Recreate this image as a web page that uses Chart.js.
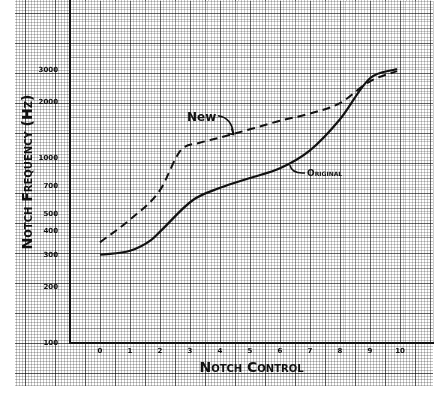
<!DOCTYPE html>
<html>
<head>
<meta charset="utf-8">
<script src="https://cdn.jsdelivr.net/npm/chart.js@4"></script>
<style>
  html, body { margin:0; padding:0; background:#fff; }
  #wrap { position:relative; width:438px; height:394px; }
  #paper {
    position:absolute; left:15px; top:0; width:418px; height:386px;
    background-color:#fff;
    background-image:
      linear-gradient(to right, rgba(0,0,0,.55) 1px, transparent 1px),
      linear-gradient(to bottom, rgba(0,0,0,.55) 1px, transparent 1px),
      linear-gradient(to right, rgba(0,0,0,.22) 1px, transparent 1px),
      linear-gradient(to bottom, rgba(0,0,0,.22) 1px, transparent 1px);
    background-size: 30px 30px, 30px 30px, 3px 3px, 3px 3px;
    background-position: 10px 0, 0 13px, 1px 0, 0 1px;
  }
  #chart { position:absolute; left:0; top:0; }
</style>
</head>
<body>
<div id="wrap">
  <div id="paper"></div>
  <canvas id="chart" width="438" height="394"></canvas>
</div>
<script>
// =======================
// DATA
// =======================
const xTicks = [0, 1, 2, 3, 4, 5, 6, 7, 8, 9, 10];
const yTicks = [100, 200, 300, 400, 500, 700, 1000, 2000, 3000];

const originalX = [0, 1, 1.7, 2, 3.1, 4, 5, 6, 7, 8, 9, 9.9];
const originalY = [300, 315, 360, 400, 593, 690, 780, 880, 1100, 1620, 2700, 3030];

const newX = [0, 1, 2, 2.7, 3.3, 4, 5, 6, 7, 8, 9, 9.9];
const newY = [350, 465, 670, 1105, 1205, 1290, 1430, 1590, 1740, 1980, 2600, 2950];

// =======================
// HELPERS
// =======================
const ink = '#111';
const tickFont = { family: 'DejaVu Sans', weight: 'bold', size: 7 };
// chart.js refuses style:'small-caps', so it rides in the weight slot
const titleFont = { family: 'DejaVu Sans', weight: 'small-caps bold', size: 14 };

function pts(xs, ys) {
  return xs.map((x, i) => ({ x: x, y: ys[i] }));
}

function gridColor(v, step) {
  const n = Math.round(v / step);
  if (n % 10 === 0) return 'rgba(0,0,0,0.6)';
  if (n % 5 === 0) return 'rgba(0,0,0,0.4)';
  return 'rgba(0,0,0,0.2)';
}

function noPad(s) {
  s.paddingTop = 0;
  s.paddingBottom = 0;
  s.paddingLeft = 0;
  s.paddingRight = 0;
}

// white sheet under the plot so the css paper does not double up
const sheet = {
  id: 'sheet',
  beforeDraw(chart) {
    const a = chart.chartArea, c = chart.ctx;
    c.save();
    c.fillStyle = '#fff';
    c.fillRect(a.left, a.top, a.right - a.left, a.bottom - a.top);
    c.restore();
  }
};

// hand lettered notes on the curves
const notes = {
  id: 'notes',
  afterDatasetsDraw(chart) {
    const c = chart.ctx, sx = chart.scales.x, sy = chart.scales.y;
    c.save();
    c.fillStyle = ink;
    c.strokeStyle = ink;
    c.lineWidth = 1.6;

    // "New"
    c.font = 'bold 12px "DejaVu Sans"';
    c.textBaseline = 'alphabetic';
    const nx = sx.getPixelForValue(2.9), ny = sy.getPixelForValue(1590);
    c.fillText('New', nx, ny);
    const ax = sx.getPixelForValue(4.45), ay = sy.getPixelForValue(1340);
    c.beginPath();
    c.moveTo(nx + 31, ny - 5);
    c.quadraticCurveTo(nx + 45, ny - 3, ax, ay);
    c.stroke();
    c.beginPath();
    c.moveTo(ax - 6, ay - 1);
    c.lineTo(ax, ay);
    c.lineTo(ax - 2, ay - 6);
    c.stroke();

    // "Original"
    c.font = 'small-caps bold 9px "DejaVu Sans"';
    const ox = sx.getPixelForValue(6.9), oy = sy.getPixelForValue(800);
    c.fillText('Original', ox, oy);
    const bx = sx.getPixelForValue(6.33), by = sy.getPixelForValue(915);
    c.beginPath();
    c.moveTo(ox - 2, oy - 3);
    c.quadraticCurveTo(bx + 2, oy - 2, bx, by);
    c.stroke();
    c.restore();
  }
};

// =======================
// CHART
// =======================
new Chart(document.getElementById('chart'), {
  type: 'line',
  data: {
    datasets: [
      {
        label: 'New',
        data: pts(newX, newY),
        borderColor: ink,
        borderWidth: 2,
        borderDash: [8, 5],
        pointRadius: 0,
        cubicInterpolationMode: 'monotone'
      },
      {
        label: 'Original',
        data: pts(originalX, originalY),
        borderColor: ink,
        borderWidth: 2.2,
        pointRadius: 0,
        cubicInterpolationMode: 'monotone'
      }
    ]
  },
  options: {
    responsive: false,
    animation: false,
    layout: { padding: { top: 1, right: 5, left: 0, bottom: 0 } },
    plugins: { legend: { display: false }, tooltip: { enabled: false } },
    scales: {
      x: {
        type: 'linear',
        min: -1,
        max: 11.1,
        afterFit(s) { s.height = 51; noPad(s); },
        afterBuildTicks(s) {
          const t = [];
          for (let i = -10; i <= 111; i++) t.push({ value: i / 10 });
          s.ticks = t;
        },
        ticks: {
          autoSkip: false,
          maxRotation: 0,
          padding: 4,
          color: ink,
          font: tickFont,
          callback(v) {
            const r = Math.round(v * 10);
            return (r % 10 === 0 && xTicks.includes(r / 10)) ? String(r / 10) : '';
          }
        },
        grid: {
          drawTicks: false,
          color(ctx) { return gridColor(ctx.tick.value, 0.1); },
          lineWidth: 1
        },
        border: { display: true, color: ink, width: 2 },
        title: {
          display: true,
          text: 'Notch Control',
          color: ink,
          font: titleFont,
          padding: { top: 4, bottom: 17 }
        }
      },
      y: {
        type: 'logarithmic',
        min: 100,
        max: 7060,
        afterFit(s) { s.width = 70; noPad(s); },
        afterBuildTicks(s) {
          s.ticks = yTicks.map(v => ({ value: v }));
        },
        ticks: {
          autoSkip: false,
          padding: 12,
          color: ink,
          font: tickFont,
          callback(v) { return String(v); }
        },
        grid: { display: false, drawTicks: false },
        border: { display: true, color: ink, width: 2 },
        title: {
          display: true,
          text: 'Notch Frequency (Hz)',
          color: ink,
          font: titleFont,
          padding: { top: 20, bottom: 0 }
        }
      },
      g: {
        type: 'linear',
        position: 'right',
        min: 0,
        max: 114,
        afterFit(s) { s.width = 0; noPad(s); },
        afterBuildTicks(s) {
          const t = [];
          for (let i = 1; i <= 114; i++) t.push({ value: i });
          s.ticks = t;
        },
        ticks: { display: false },
        grid: {
          drawTicks: false,
          color(ctx) { return gridColor(ctx.tick.value, 1); },
          lineWidth: 1
        },
        border: { display: false }
      }
    }
  },
  plugins: [sheet, notes]
});
</script>
</body>
</html>
